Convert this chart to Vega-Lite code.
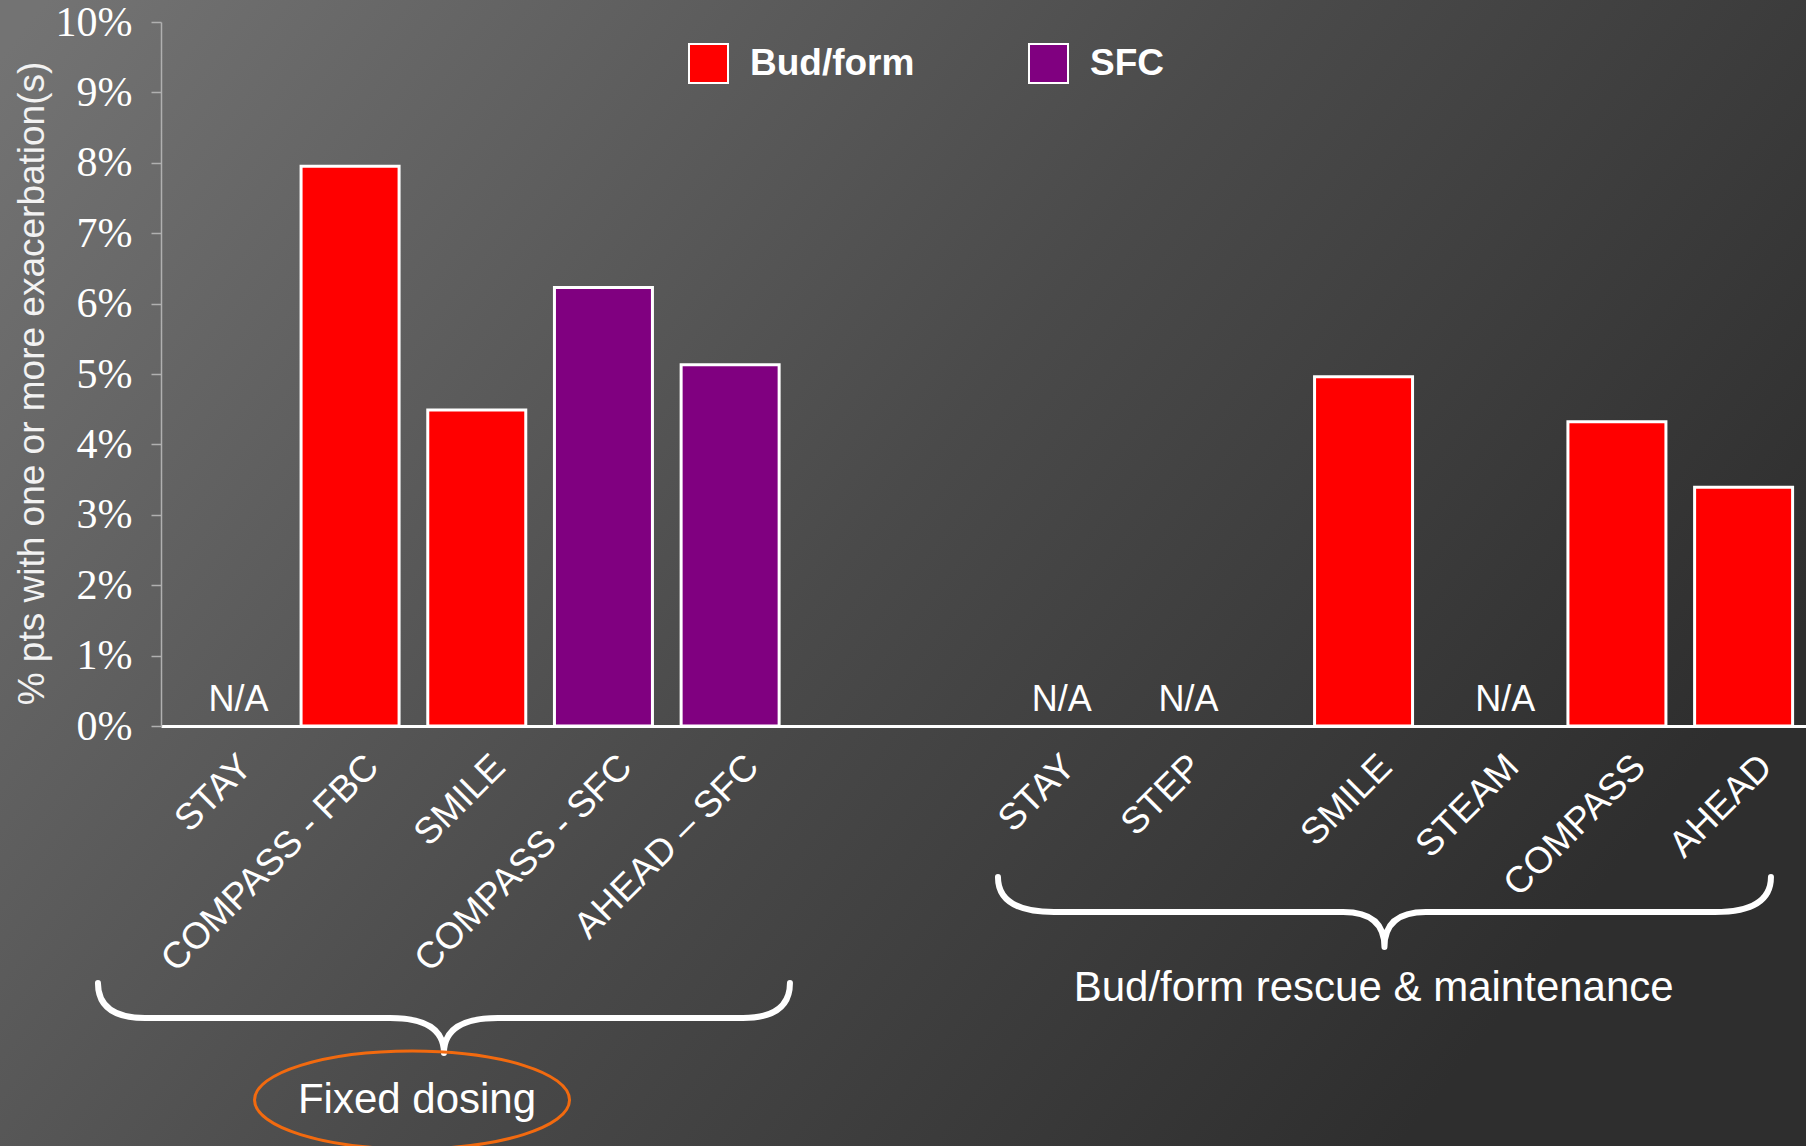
{
  "$schema": "https://vega.github.io/schema/vega-lite/v6.json",
  "width": 1806,
  "height": 1146,
  "autosize": {"type": "none"},
  "padding": 0,
  "background": "#4d4d4d",
  "config": {"view": {"stroke": null}, "font": "Liberation Sans"},
  "datasets": {
    "studies": [
      {"slot": "F-STAY", "study": "STAY", "group": "Fixed dosing", "drug": "Bud/form", "pct": null},
      {"slot": "F-COMPASS - FBC", "study": "COMPASS - FBC", "group": "Fixed dosing", "drug": "Bud/form", "pct": 7.95},
      {"slot": "F-SMILE", "study": "SMILE", "group": "Fixed dosing", "drug": "Bud/form", "pct": 4.49},
      {"slot": "F-COMPASS - SFC", "study": "COMPASS - SFC", "group": "Fixed dosing", "drug": "SFC", "pct": 6.23},
      {"slot": "F-AHEAD – SFC", "study": "AHEAD – SFC", "group": "Fixed dosing", "drug": "SFC", "pct": 5.13},
      {"slot": "R-STAY", "study": "STAY", "group": "Bud/form rescue & maintenance", "drug": "Bud/form", "pct": null},
      {"slot": "R-STEP", "study": "STEP", "group": "Bud/form rescue & maintenance", "drug": "Bud/form", "pct": null},
      {"slot": "R-SMILE", "study": "SMILE", "group": "Bud/form rescue & maintenance", "drug": "Bud/form", "pct": 4.96},
      {"slot": "R-STEAM", "study": "STEAM", "group": "Bud/form rescue & maintenance", "drug": "Bud/form", "pct": null},
      {"slot": "R-COMPASS", "study": "COMPASS", "group": "Bud/form rescue & maintenance", "drug": "Bud/form", "pct": 4.32},
      {"slot": "R-AHEAD", "study": "AHEAD", "group": "Bud/form rescue & maintenance", "drug": "Bud/form", "pct": 3.39}
    ]
  },
  "layer": [
    {
      "data": {"values": [{}]},
      "mark": {
        "type": "rect",
        "fill": {
          "gradient": "linear",
          "x1": 0, "y1": 0.05, "x2": 1, "y2": 0.55,
          "stops": [
            {"offset": 0, "color": "#737373"},
            {"offset": 0.55, "color": "#4a4a4a"},
            {"offset": 1, "color": "#2e2e2e"}
          ]
        }
      },
      "encoding": {}
    },
    {
      "data": {"name": "studies"},
      "encoding": {
        "x": {
          "field": "slot",
          "type": "nominal",
          "sort": null,
          "scale": {
            "domain": ["F-STAY", "_1", "F-COMPASS - FBC", "_2", "F-SMILE", "_3", "F-COMPASS - SFC", "_4", "F-AHEAD – SFC", "_5", "_6", "_7", "_8", "R-STAY", "_9", "R-STEP", "_10", "_11", "R-SMILE", "_12", "R-STEAM", "_13", "R-COMPASS", "_14", "R-AHEAD"],
            "range": [161, 1806],
            "paddingInner": 0,
            "paddingOuter": 0.485
          },
          "axis": {
            "title": null,
            "orient": "bottom",
            "offset": -420,
            "zindex": 1,
            "domainColor": "#ffffff",
            "domainWidth": 3,
            "ticks": false,
            "grid": false,
            "labelAngle": -45,
            "labelFont": "Liberation Sans",
            "labelFontSize": 37,
            "labelColor": "#ffffff",
            "labelPadding": 22,
            "labelOffset": 10,
            "labelLimit": 500,
            "labelOverlap": false,
            "labelExpr": "indexof(datum.value, '_') == 0 ? '' : substring(datum.value, 2)"
          }
        }
      },
      "layer": [
        {
          "mark": {"type": "bar", "width": 98, "stroke": "#ffffff", "strokeWidth": 3},
          "encoding": {
            "y": {
              "field": "pct",
              "type": "quantitative",
              "scale": {"domain": [0, 10], "range": [726, 22], "nice": false, "zero": true},
              "axis": {
                "offset": -161,
                "zindex": 1,
                "values": [0, 1, 2, 3, 4, 5, 6, 7, 8, 9, 10],
                "labelExpr": "datum.value + '%'",
                "grid": false,
                "domainColor": "#b0b0b0",
                "domainWidth": 1.5,
                "tickColor": "#b0b0b0",
                "tickSize": 10,
                "tickWidth": 1.5,
                "labelFont": "Liberation Serif",
                "labelFontSize": 42,
                "labelColor": "#ffffff",
                "labelPadding": 19,
                "title": "% pts with one or more exacerbation(s)",
                "titleFont": "Liberation Sans",
                "titleFontSize": 37,
                "titleFontWeight": "normal",
                "titleColor": "#f2f2f2",
                "titleAngle": -90,
                "titleX": -129,
                "titleY": 383,
                "titleAlign": "center",
                "titleBaseline": "middle"
              }
            },
            "color": {
              "field": "drug",
              "type": "nominal",
              "scale": {"domain": ["Bud/form", "SFC"], "range": ["#ff0000", "#800080"]},
              "legend": {
                "title": null,
                "orient": "none",
                "legendX": 688,
                "legendY": 43,
                "zindex": 1,
                "direction": "horizontal",
                "symbolType": "square",
                "symbolSize": 1521,
                "symbolStrokeColor": "#ffffff",
                "symbolStrokeWidth": 2,
                "symbolOpacity": 1,
                "labelFont": "Liberation Sans",
                "labelFontSize": 37,
                "labelFontWeight": "bold",
                "labelColor": "#ffffff",
                "labelOffset": 21,
                "labelLimit": 400,
                "columnPadding": 110,
                "padding": 0
              }
            }
          }
        },
        {
          "transform": [{"filter": "datum.pct == null"}],
          "mark": {"type": "text", "text": "N/A", "font": "Liberation Sans", "fontSize": 36, "color": "#ffffff", "baseline": "alphabetic", "align": "center", "dx": 15, "dy": -15},
          "encoding": {
            "y": {"datum": 0, "type": "quantitative", "scale": {"domain": [0, 10], "range": [726, 22], "nice": false}}
          }
        }
      ]
    },
    {
      "data": {"values": [{}]},
      "layer": [
        {
          "mark": {"type": "point", "shape": "M -1 -0.101 Q -1 0 -0.864 0 L -0.156 0 Q 0 0 0 0.101 Q 0 0 0.156 0 L 0.864 0 Q 1 0 1 -0.101", "size": 478864, "filled": false, "stroke": "#ffffff", "strokeWidth": 6, "strokeCap": "round", "strokeJoin": "round", "opacity": 1},
          "encoding": {
            "x": {"datum": 3.482, "type": "quantitative", "scale": {"domain": [-0.985, 24.985], "range": [161, 1806], "nice": false, "zero": false}, "axis": null},
            "y": {"datum": -4.148, "type": "quantitative", "scale": {"domain": [0, 10], "range": [726, 22], "nice": false}, "axis": null}
          }
        },
        {
          "mark": {"type": "point", "shape": "M -1 -0.0906 Q -1 0 -0.855 0 L -0.107 0 Q 0 0 0 0.0906 Q 0 0 0.107 0 L 0.855 0 Q 1 0 1 -0.0906", "size": 597529, "filled": false, "stroke": "#ffffff", "strokeWidth": 6, "strokeCap": "round", "strokeJoin": "round", "opacity": 1},
          "encoding": {
            "x": {"datum": 18.33, "type": "quantitative", "scale": {"domain": [-0.985, 24.985], "range": [161, 1806], "nice": false, "zero": false}, "axis": null},
            "y": {"datum": -2.642, "type": "quantitative", "scale": {"domain": [0, 10], "range": [726, 22], "nice": false}, "axis": null}
          }
        },
        {
          "mark": {"type": "point", "shape": "M -1 0 A 1 0.311 0 1 0 1 0 A 1 0.311 0 1 0 -1 0 Z", "size": 99225, "filled": false, "stroke": "#f26a0f", "strokeWidth": 3, "opacity": 1},
          "encoding": {
            "x": {"datum": 2.978, "type": "quantitative", "scale": {"domain": [-0.985, 24.985], "range": [161, 1806], "nice": false, "zero": false}, "axis": null},
            "y": {"datum": -5.312, "type": "quantitative", "scale": {"domain": [0, 10], "range": [726, 22], "nice": false}, "axis": null}
          }
        },
        {
          "mark": {"type": "text", "text": "Fixed dosing", "font": "Liberation Sans", "fontSize": 42, "color": "#ffffff", "align": "center", "baseline": "middle"},
          "encoding": {
            "x": {"datum": 3.056, "type": "quantitative", "scale": {"domain": [-0.985, 24.985], "range": [161, 1806], "nice": false, "zero": false}, "axis": null},
            "y": {"datum": -5.312, "type": "quantitative", "scale": {"domain": [0, 10], "range": [726, 22], "nice": false}, "axis": null}
          }
        },
        {
          "mark": {"type": "text", "text": "Bud/form rescue & maintenance", "font": "Liberation Sans", "fontSize": 42, "color": "#ffffff", "align": "center", "baseline": "middle"},
          "encoding": {
            "x": {"datum": 18.16, "type": "quantitative", "scale": {"domain": [-0.985, 24.985], "range": [161, 1806], "nice": false, "zero": false}, "axis": null},
            "y": {"datum": -3.722, "type": "quantitative", "scale": {"domain": [0, 10], "range": [726, 22], "nice": false}, "axis": null}
          }
        }
      ]
    }
  ],
  "resolve": {"scale": {"x": "independent", "y": "independent", "color": "independent"}}
}
